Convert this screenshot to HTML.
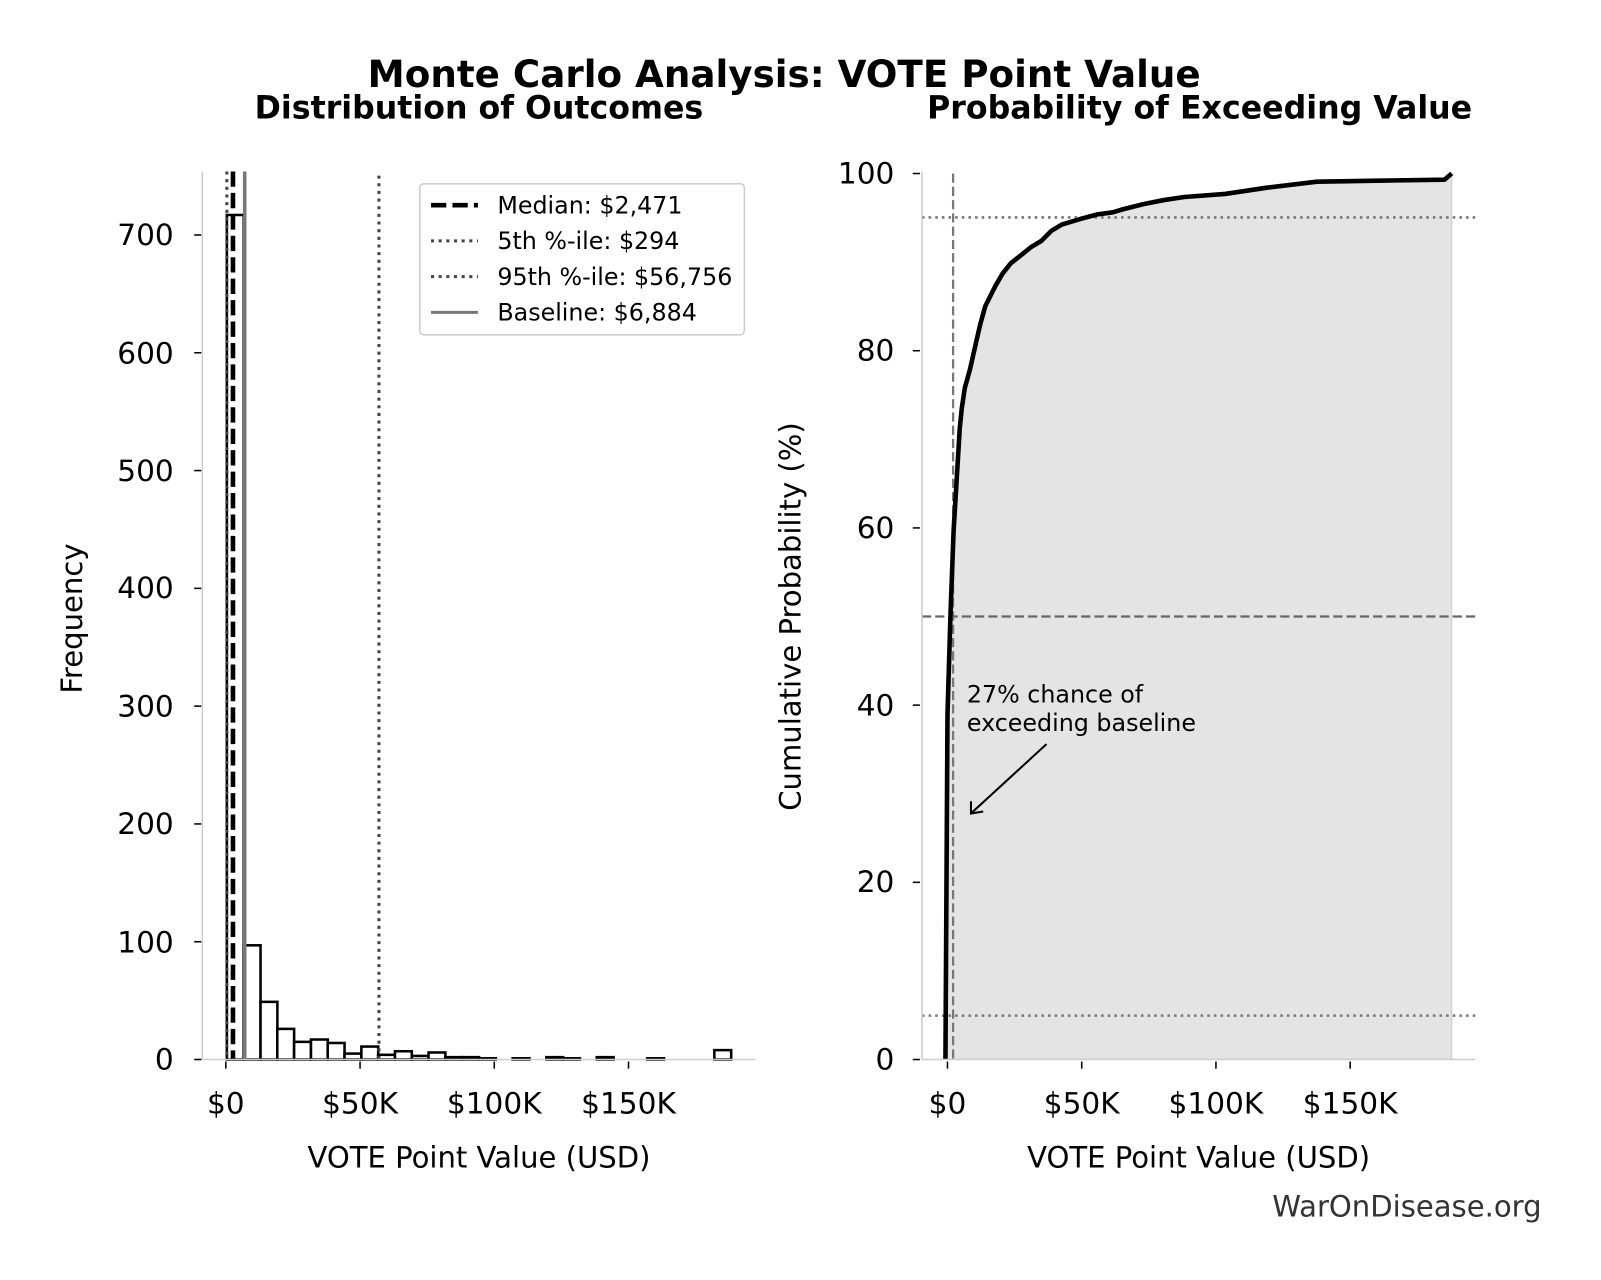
<!DOCTYPE html>
<html><head><meta charset="utf-8"><style>html,body{margin:0;padding:0;background:#fff}svg{display:block}</style></head>
<body>
<svg width="1601" height="1280" viewBox="0 0 1568 1254" xmlns="http://www.w3.org/2000/svg" font-family="DejaVu Sans, Liberation Sans, sans-serif">
<rect width="1568" height="1254" fill="#fff"/>
<text x="768" y="85" font-size="36.5" font-weight="bold" text-anchor="middle">Monte Carlo Analysis: VOTE Point Value</text>
<text x="469" y="116" font-size="31" font-weight="bold" text-anchor="middle">Distribution of Outcomes</text>
<text x="1175" y="116" font-size="31" font-weight="bold" text-anchor="middle">Probability of Exceeding Value</text>

<!-- LEFT -->
<g fill="#fff" stroke="#000" stroke-width="2.5">
<rect x="222" y="210.6" width="16.5" height="827.4"/>
<rect x="238.5" y="926.1" width="16.5" height="111.9"/>
<rect x="255" y="981.5" width="16.5" height="56.5"/>
<rect x="271.4" y="1008" width="16.5" height="30"/>
<rect x="287.9" y="1020.7" width="16.5" height="17.3"/>
<rect x="304.4" y="1018.4" width="16.5" height="19.6"/>
<rect x="320.8" y="1021.8" width="16.5" height="16.2"/>
<rect x="337.3" y="1032.2" width="16.5" height="5.8"/>
<rect x="353.8" y="1025.3" width="16.5" height="12.7"/>
<rect x="370.2" y="1033.4" width="16.5" height="4.6"/>
<rect x="386.7" y="1029.9" width="16.5" height="8.1"/>
<rect x="403.2" y="1034.5" width="16.5" height="3.5"/>
<rect x="419.6" y="1031.1" width="16.5" height="6.9"/>
<rect x="436.1" y="1035.7" width="16.5" height="2.3"/>
<rect x="452.6" y="1035.7" width="16.5" height="2.3"/>
<rect x="469" y="1036.8" width="16.5" height="1.2"/>
<rect x="502" y="1036.8" width="16.5" height="1.2"/>
<rect x="535" y="1035.7" width="16.5" height="2.3"/>
<rect x="551.4" y="1036.8" width="16.5" height="1.2"/>
<rect x="584.4" y="1035.7" width="16.5" height="2.3"/>
<rect x="633.8" y="1036.8" width="16.5" height="1.2"/>
<rect x="699.6" y="1028.8" width="16.5" height="9.2"/>
</g>
<line x1="222" y1="168" x2="222" y2="1038" stroke="#444" stroke-width="3" stroke-dasharray="3,4.5"/>
<line x1="228" y1="168" x2="228" y2="1038" stroke="#000" stroke-width="4.5" stroke-dasharray="15,6"/>
<line x1="239.5" y1="168" x2="239.5" y2="1038" stroke="#777" stroke-width="3.5"/>
<line x1="371" y1="172" x2="371" y2="1038" stroke="#444" stroke-width="3" stroke-dasharray="3,4.5"/>
<line x1="198" y1="168" x2="198" y2="1038" stroke="#ccc" stroke-width="1.5"/>
<line x1="190" y1="1038" x2="740" y2="1038" stroke="#ccc" stroke-width="1.5"/>
<g stroke="#000" stroke-width="1.5">
<line x1="190" y1="1038" x2="197" y2="1038"/><line x1="190" y1="922.6" x2="197" y2="922.6"/><line x1="190" y1="807.2" x2="197" y2="807.2"/><line x1="190" y1="691.8" x2="197" y2="691.8"/><line x1="190" y1="576.4" x2="197" y2="576.4"/><line x1="190" y1="461" x2="197" y2="461"/><line x1="190" y1="345.6" x2="197" y2="345.6"/><line x1="190" y1="230.2" x2="197" y2="230.2"/>
<line x1="221" y1="1040" x2="221" y2="1047"/><line x1="352.5" y1="1040" x2="352.5" y2="1047"/><line x1="484" y1="1040" x2="484" y2="1047"/><line x1="615.5" y1="1040" x2="615.5" y2="1047"/>
</g>
<g font-size="29" text-anchor="end">
<text x="170" y="1048">0</text><text x="170" y="933">100</text><text x="170" y="817">200</text><text x="170" y="702">300</text><text x="170" y="586">400</text><text x="170" y="471">500</text><text x="170" y="356">600</text><text x="170" y="240">700</text>
</g>
<g font-size="29" text-anchor="middle">
<text x="221" y="1091">$0</text><text x="352.5" y="1091">$50K</text><text x="484" y="1091">$100K</text><text x="615.5" y="1091">$150K</text>
</g>
<text x="469" y="1144" font-size="28.5" text-anchor="middle">VOTE Point Value (USD)</text>
<text transform="translate(80,606) rotate(-90)" font-size="28.5" text-anchor="middle">Frequency</text>
<!-- legend -->
<rect x="411" y="180" width="318" height="148" rx="4" fill="#fff" stroke="#ccc" stroke-width="1.5"/>
<line x1="422" y1="201" x2="468" y2="201" stroke="#000" stroke-width="4.5" stroke-dasharray="15,6"/>
<line x1="422" y1="236" x2="468" y2="236" stroke="#444" stroke-width="3" stroke-dasharray="3,4.5"/>
<line x1="422" y1="271" x2="468" y2="271" stroke="#444" stroke-width="3" stroke-dasharray="3,4.5"/>
<line x1="422" y1="306" x2="468" y2="306" stroke="#777" stroke-width="3"/>
<g font-size="23.3">
<text x="487" y="209">Median: $2,471</text><text x="487" y="244">5th %-ile: $294</text><text x="487" y="279">95th %-ile: $56,756</text><text x="487" y="314">Baseline: $6,884</text>
</g>

<!-- RIGHT -->
<polygon fill="#e4e4e4" points="926,1038 928,700 931,600 934,520 937,470 940,420 942,400 945,380 950,362 955,340 960,318 965,300 970,290 975,280 982,268 990,258 1000,250 1010,242 1020,236 1030,226 1040,220 1060,214 1075,210 1090,208 1100,205 1120,200 1140,196 1160,193 1200,190 1240,184 1290,178 1350,177 1415,176 1422,170 1422,1038"/>
<line x1="1422" y1="170" x2="1422" y2="1038" stroke="#ccc" stroke-width="1"/>
<line x1="903" y1="213" x2="1445" y2="213" stroke="#777" stroke-width="2.5" stroke-dasharray="2.5,4"/>
<line x1="903" y1="604" x2="1445" y2="604" stroke="#666" stroke-width="2.2" stroke-dasharray="9,4"/>
<line x1="903" y1="995" x2="1445" y2="995" stroke="#777" stroke-width="2.5" stroke-dasharray="2.5,4"/>
<line x1="933.5" y1="170" x2="933.5" y2="1038" stroke="#777" stroke-width="2.2" stroke-dasharray="9,4"/>
<polyline fill="none" stroke="#000" stroke-width="4.5" stroke-linejoin="round" points="926,1038 928,700 931,600 934,520 937,470 940,420 942,400 945,380 950,362 955,340 960,318 965,300 970,290 975,280 982,268 990,258 1000,250 1010,242 1020,236 1030,226 1040,220 1060,214 1075,210 1090,208 1100,205 1120,200 1140,196 1160,193 1200,190 1240,184 1290,178 1350,177 1415,176 1422,170"/>
<line x1="903" y1="168" x2="903" y2="1038" stroke="#ccc" stroke-width="1.5"/>
<line x1="903" y1="1038" x2="1445" y2="1038" stroke="#ccc" stroke-width="1.5"/>
<g stroke="#000" stroke-width="1.5">
<line x1="894" y1="1038" x2="901" y2="1038"/><line x1="894" y1="864.4" x2="901" y2="864.4"/><line x1="894" y1="690.8" x2="901" y2="690.8"/><line x1="894" y1="517.2" x2="901" y2="517.2"/><line x1="894" y1="343.6" x2="901" y2="343.6"/><line x1="894" y1="170" x2="901" y2="170"/>
<line x1="928" y1="1040" x2="928" y2="1047"/><line x1="1059.5" y1="1040" x2="1059.5" y2="1047"/><line x1="1191" y1="1040" x2="1191" y2="1047"/><line x1="1322.5" y1="1040" x2="1322.5" y2="1047"/>
</g>
<g font-size="29" text-anchor="end">
<text x="876" y="1048">0</text><text x="876" y="874">20</text><text x="876" y="701">40</text><text x="876" y="527">60</text><text x="876" y="353">80</text><text x="876" y="180">100</text>
</g>
<g font-size="29" text-anchor="middle">
<text x="928" y="1091">$0</text><text x="1059.5" y="1091">$50K</text><text x="1191" y="1091">$100K</text><text x="1322.5" y="1091">$150K</text>
</g>
<text x="1174" y="1144" font-size="28.5" text-anchor="middle">VOTE Point Value (USD)</text>
<text transform="translate(784,604) rotate(-90)" font-size="28.5" text-anchor="middle">Cumulative Probability (%)</text>
<g font-size="23.3"><text x="947" y="688">27% chance of</text><text x="947" y="716">exceeding baseline</text></g>
<line x1="1025" y1="729" x2="952" y2="796" stroke="#000" stroke-width="2"/>
<polyline points="951,785 951,797 963,795" fill="none" stroke="#000" stroke-width="2"/>
<text x="1510" y="1192" font-size="28.5" fill="#333" text-anchor="end">WarOnDisease.org</text>
</svg>
</body></html>
